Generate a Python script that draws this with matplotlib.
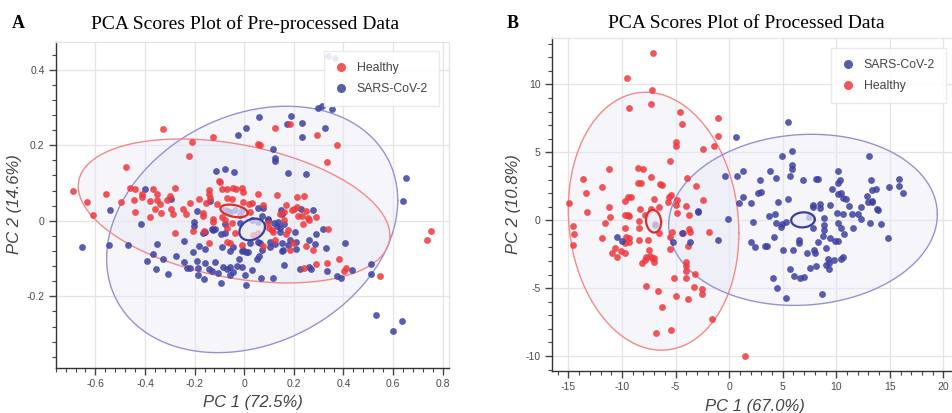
"""
PCA scores plots (pre-processed vs processed) - two panel figure
"""

import numpy as np
import matplotlib
matplotlib.use('Agg')
import matplotlib.pyplot as plt
from matplotlib.lines import Line2D
from matplotlib.ticker import MultipleLocator, FuncFormatter

plt.rcParams['font.family'] = 'Liberation Sans'
plt.rcParams['axes.unicode_minus'] = False

RED = '#f0383c'
BLUE = '#3d419f'

# ---- Panel A: pre-processed data (PC1, PC2) ----
a_healthy = [
    (-0.327, 0.243), (-0.212, 0.209), (-0.127, 0.221), (-0.223, 0.171), (-0.476, 0.141),
    (-0.101, 0.104), (-0.690, 0.079), (-0.634, 0.049), (-0.611, 0.016), (-0.559, 0.072),
    (-0.496, 0.049), (-0.461, 0.087), (-0.439, 0.085), (-0.445, 0.054), (-0.439, 0.023),
    (-0.414, 0.072), (-0.414, 0.062), (-0.379, 0.052), (-0.381, 0.009), (-0.367, 0.083),
    (-0.351, 0.070), (-0.351, 0.056), (-0.340, 0.044), (-0.359, 0.030), (-0.336, 0.021),
    (-0.313, 0.055), (-0.300, 0.065), (-0.278, 0.088), (-0.297, 0.030), (-0.289, 0.018),
    (-0.247, 0.031), (-0.236, 0.018), (-0.218, 0.047), (-0.184, 0.057), (-0.156, 0.046),
    (-0.144, 0.081), (-0.141, 0.072), (-0.136, 0.059), (-0.111, 0.044), (-0.090, 0.085),
    (-0.071, 0.083), (-0.048, 0.058), (-0.033, 0.083), (-0.008, 0.087), (-0.004, 0.075),
    (-0.006, 0.050), (-0.165, 0.020), (-0.168, 0.012), (-0.126, 0.004), (-0.278, -0.033),
    (-0.206, -0.026), (-0.163, -0.027), (-0.141, -0.060), (-0.089, 0.011), (-0.069, -0.018),
    (-0.037, -0.033), (-0.071, -0.056), (-0.058, -0.060), (-0.008, -0.063),
    (0.753, -0.028), (0.738, -0.050), (0.548, -0.146), (0.336, -0.022), (0.290, 0.011),
    (0.250, 0.027), (0.237, -0.009), (0.261, 0.001), (0.218, 0.012), (0.199, 0.030),
    (0.249, -0.068), (0.278, -0.077), (0.290, -0.115), (0.335, -0.112), (0.382, -0.100),
    (0.401, -0.132), (0.411, -0.125), (0.241, -0.126), (0.196, -0.058), (0.186, -0.078),
    (0.125, -0.052), (0.169, -0.035), (0.101, -0.019), (0.077, 0.042), (0.168, 0.042),
    (0.145, 0.018), (0.159, 0.023), (0.211, 0.037), (0.074, -0.067), (0.057, -0.033),
    (0.114, -0.030), (0.124, 0.246), (0.183, 0.257), (0.292, 0.228), (0.375, 0.200),
    (0.054, 0.204), (0.062, 0.200), (0.333, 0.155), (0.057, 0.072), (0.133, 0.067),
    (0.212, 0.063), (0.239, 0.065), (0.020, 0.044), (0.194, 0.028), (0.234, 0.012),
    (0.257, 0.006), (0.161, 0.002), (0.036, -0.038), (-0.098, 0.103), (-0.044, 0.086),
    (-0.071, 0.059), (0.030, 0.046), (0.023, 0.024), (-0.125, -0.003), (-0.051, -0.007),
    (-0.078, 0.002), (0.097, -0.007), (0.110, -0.025), (0.177, -0.025),
]
a_covid = [
    (0.007, 0.246), (-0.024, 0.228), (-0.115, 0.132), (-0.078, 0.136), (-0.040, 0.128),
    (-0.398, 0.083), (-0.294, 0.057), (-0.540, 0.028), (-0.417, -0.008), (-0.652, -0.069),
    (-0.544, -0.063), (-0.469, -0.063), (-0.353, -0.061), (-0.192, 0.026), (-0.137, 0.051),
    (-0.203, -0.003), (-0.203, -0.014), (-0.165, -0.033), (-0.129, -0.023), (-0.116, -0.023),
    (-0.093, -0.035), (-0.077, -0.008), (-0.242, -0.054), (-0.183, -0.068), (-0.067, 0.025),
    (-0.037, 0.028), (-0.018, 0.016), (-0.367, -0.089), (-0.391, -0.107), (-0.327, -0.100),
    (-0.356, -0.128), (-0.309, -0.141), (-0.274, -0.093), (-0.244, -0.110), (-0.232, -0.124),
    (-0.218, -0.124), (-0.206, -0.084), (-0.192, -0.106), (-0.187, -0.125), (-0.185, -0.144),
    (-0.160, -0.076), (-0.161, -0.154), (-0.158, -0.113), (-0.141, -0.129), (-0.128, -0.132),
    (-0.118, -0.110), (-0.107, -0.139), (-0.093, -0.164), (-0.085, -0.122), (-0.071, -0.127),
    (-0.058, -0.122), (-0.056, -0.144), (-0.047, -0.135), (-0.031, -0.120), (-0.023, -0.102),
    (-0.011, -0.122), (0.004, -0.144), (0.006, -0.169), (-0.056, -0.079), (-0.011, -0.079),
    (0.007, -0.083), (-0.078, -0.033), (-0.091, -0.069),
    (0.640, 0.052), (0.407, -0.058), (0.316, -0.022), (0.289, -0.035), (0.284, -0.061),
    (0.262, -0.050), (0.329, -0.073), (0.332, -0.133), (0.262, -0.123), (0.269, -0.128),
    (0.226, -0.129), (0.375, -0.146), (0.389, -0.152), (0.433, -0.130), (0.511, -0.115),
    (0.511, -0.142), (0.531, -0.250), (0.635, -0.266), (0.601, -0.292), (0.161, -0.118),
    (0.116, -0.152), (0.067, -0.151), (0.206, -0.031), (0.207, -0.056), (0.207, -0.076),
    (0.178, -0.064), (0.151, -0.079), (0.151, -0.058), (0.125, -0.061), (0.102, -0.069),
    (0.161, -0.009), (0.133, -0.014), (0.145, -0.019), (0.121, -0.005), (0.096, 0.004),
    (0.147, 0.028), (0.154, 0.019), (0.227, 0.030), (0.277, 0.028), (0.054, -0.056),
    (0.030, -0.130), (0.050, -0.102), (0.059, -0.094), (0.016, -0.082), (0.057, 0.035),
    (0.070, 0.013), (0.058, 0.275), (0.173, 0.256), (0.188, 0.277), (0.233, 0.260),
    (0.327, 0.245), (0.233, 0.221), (0.297, 0.299), (0.313, 0.303), (0.354, 0.295),
    (0.339, 0.437), (0.366, 0.430), (0.116, 0.189), (0.125, 0.165), (0.125, 0.158),
    (0.178, 0.126), (0.249, 0.124), (0.652, 0.114), (0.137, -0.003), (-0.078, 0.028),
    (-0.058, 0.024), (-0.010, 0.028), (0.077, 0.035), (-0.017, -0.007), (0.030, 0.002),
    (0.057, -0.002), (0.097, 0.002), (-0.158, -0.029), (-0.125, -0.024), (-0.044, -0.069),
    (-0.004, -0.078), (0.023, -0.060), (0.064, -0.060), (0.070, -0.078), (0.104, -0.056),
    (0.144, -0.029), (0.157, -0.078), (0.184, -0.052),
]
# ellipse centre and covariance-like shape (data units)
a_healthy_ell = ((-0.041, 0.026), [[0.3944, -0.0411], [-0.0411, 0.0363]])
a_covid_ell = ((0.032, -0.023), [[0.3442, 0.0452], [0.0452, 0.1064]])

# ---- Panel B: processed data ----
b_healthy = [
    (-7.07, 12.28), (-9.50, 10.51), (-7.20, 9.60), (-9.32, 8.23), (-7.32, 8.55),
    (-4.61, 8.00), (-4.36, 7.07), (-1.02, 7.54), (-1.05, 6.19), (-1.43, 5.48),
    (-2.43, 5.28), (-4.95, 5.79), (-4.95, 5.48), (-5.54, 4.37), (-8.51, 3.85),
    (-8.01, 3.78), (-7.26, 3.16), (-8.47, 2.75), (-8.20, 2.75), (-6.42, 2.65),
    (-6.26, 2.58), (-3.92, 3.14), (-3.08, 2.53), (-11.25, 3.76), (-13.62, 3.02),
    (-11.91, 2.45), (-13.34, 2.04), (-9.75, 1.42), (-9.44, 1.74), (-9.13, 1.74),
    (-7.01, 1.55), (-5.61, 1.74), (-5.45, 1.86), (-4.89, 1.50), (-5.67, 1.32),
    (-2.40, 1.47), (-4.95, 1.13), (-4.04, 1.05), (-14.96, 1.28), (-11.22, 1.01),
    (-7.29, 0.86), (-6.51, 0.95), (-14.56, -0.42), (-14.50, -1.03), (-14.53, -1.80),
    (-13.22, 0.59), (-11.63, -0.20), (-11.13, 0.22), (-11.88, -1.33), (-10.97, -2.43),
    (-10.48, -2.68), (-10.69, -2.01), (-10.10, -2.24), (-9.75, -2.38), (-9.75, -1.70),
    (-9.63, -1.26), (-9.38, -1.62), (-9.44, 0.39), (-9.32, 0.34), (-9.72, 0.39),
    (-9.69, -0.57), (-9.32, -1.33), (-8.38, -0.03), (-8.38, -0.59), (-8.38, -1.45),
    (-8.32, 0.81), (-8.16, -3.17), (-7.88, -2.92), (-7.73, -2.68), (-7.60, -1.45),
    (-7.45, -2.19), (-7.38, -2.63), (-7.23, -2.80), (-7.04, -3.05), (-6.98, -2.80),
    (-7.76, -4.86), (-6.64, -5.18), (-6.51, -0.96), (-6.26, -6.39), (-6.82, -8.28),
    (-5.42, -8.08), (-4.92, -5.58), (-5.17, -4.25), (-5.54, -2.12), (-5.51, -1.21),
    (-5.36, -0.89), (-4.86, 0.51), (-4.02, -3.05), (-4.02, -3.37), (-4.02, -3.74),
    (-4.02, -4.28), (-3.86, -5.80), (-3.86, -1.89), (-3.77, 0.39), (-3.71, -0.64),
    (-3.65, -0.89), (-4.30, -0.96), (-3.15, -3.96), (-3.24, -4.89), (-2.52, -5.08),
    (-2.52, -5.43), (-1.90, -0.84), (-1.58, -7.25), (1.49, -10.00), (-7.85, 0.39),
    (-6.88, -0.27),
]
b_covid = [
    (-10.03, -1.50), (-10.50, -1.25), (-6.88, -0.37), (-5.23, -1.57), (-4.40, -0.91),
    (-3.62, -1.57), (-2.90, 0.61), (-1.08, -1.45), (-0.09, 0.07), (0.91, 1.30),
    (2.07, 1.30), (2.25, -0.15), (2.07, -1.57), (2.45, -1.97), (3.32, -1.87),
    (3.54, -1.87), (4.23, -1.25), (3.70, 0.32), (4.26, 0.46), (4.41, -0.17),
    (4.89, -0.47), (4.94, -0.30), (5.28, -0.13), (5.04, -2.16), (5.66, -3.61),
    (6.01, -2.19), (6.10, -4.10), (6.53, -1.45), (6.59, -4.28), (6.56, -1.70),
    (6.96, -4.15), (7.27, -2.43), (7.43, 0.27), (7.83, -0.59), (7.83, 1.13),
    (7.53, -3.54), (7.93, -2.19), (8.00, -2.43), (8.31, -1.57), (8.53, 0.93),
    (8.65, -5.45), (8.84, 0.15), (8.84, -0.34), (8.84, -0.71), (8.78, -1.13),
    (9.03, -2.07), (9.24, -2.88), (9.31, -3.12), (9.31, -3.61), (9.09, -3.29),
    (9.46, 1.13), (9.40, -1.33), (9.77, -2.92), (9.93, -1.50), (10.12, -1.50),
    (10.09, 0.51), (10.18, -0.22), (10.40, -0.54), (10.65, 0.46), (10.49, -2.88),
    (10.65, -2.68), (10.74, -1.03), (11.21, 1.05), (11.49, 0.46), (11.52, -0.59),
    (12.30, 1.00), (12.30, 0.07), (12.05, 0.46), (12.99, 1.37), (13.15, -0.17),
    (13.37, 1.37), (13.87, 0.76), (14.18, -0.27), (14.80, -1.33), (4.09, -4.23),
    (4.46, -5.01), (5.28, -5.75), (8.09, -3.37), (5.53, 7.27), (0.66, 6.16),
    (4.97, 4.71), (5.88, 5.11), (5.88, 4.08), (5.88, 3.76), (5.72, 3.26),
    (13.09, 4.71), (-0.34, 3.26), (0.72, 3.26), (1.29, 3.63), (3.84, 3.63),
    (4.34, 3.09), (2.88, 2.97), (3.00, 2.11), (2.72, 1.99), (1.29, 1.74),
    (4.59, 1.32), (5.50, 1.55), (6.94, 2.94), (8.09, 3.04), (8.34, 3.04),
    (8.53, 1.20), (7.83, 0.95), (9.65, 2.28), (10.12, 3.66), (10.12, 2.77),
    (10.34, 2.97), (10.18, 1.91), (10.43, 2.04), (10.62, 1.67), (10.90, 1.60),
    (12.83, 1.79), (13.21, 2.97), (13.37, 1.42), (13.31, 2.23), (13.68, 2.31),
    (14.94, 2.48), (15.88, 3.04), (15.88, 2.55), (16.26, 1.99), (13.84, 0.81),
    (-2.93, 0.68),
]
b_healthy_ell = ((-7.05, -0.07), [[63.4, -7.0], [-7.0, 90.2]])
b_covid_ell = ((6.9, 0.03), [[157.3, 5.0], [5.0, 39.7]])

MEAN_SCALE = 0.088  # small ellipse = scaled copy of the big one


def ellipse_xy(ell, scale=1.0, n=240):
    center, cov = ell
    t = np.linspace(0, 2 * np.pi, n)
    L = np.linalg.cholesky(np.array(cov))
    pts = (L @ np.vstack([np.cos(t), np.sin(t)])) * scale
    return center[0] + pts[0], center[1] + pts[1]


def style_axes(ax, xlim, ylim, xmaj, ymaj, xticks, yticks):
    ax.set_xlim(*xlim)
    ax.set_ylim(*ylim)
    ax.set_xticks(xticks)
    ax.set_yticks(yticks)
    ax.xaxis.set_minor_locator(MultipleLocator(xmaj / 5))
    ax.yaxis.set_minor_locator(MultipleLocator(ymaj / 5))
    fmt = FuncFormatter(lambda v, p: '%g' % round(v, 6))
    ax.xaxis.set_major_formatter(fmt)
    ax.yaxis.set_major_formatter(fmt)
    ax.grid(True, color='#e4e4e4', lw=0.9, zorder=0)
    ax.set_axisbelow(True)
    for s in ('top', 'right'):
        ax.spines[s].set_color('#e4e4e4')
        ax.spines[s].set_linewidth(0.9)
    for s in ('left', 'bottom'):
        ax.spines[s].set_color('#333333')
        ax.spines[s].set_linewidth(1.0)
    ax.tick_params(which='major', direction='out', length=5, width=1, color='#444444',
                   labelsize=7.5, labelcolor='#4a4a4a', pad=3)
    ax.tick_params(which='minor', direction='out', length=3, width=0.8, color='#444444')
    ax.tick_params(top=False, right=False, which='both')


def draw_group(ax, pts, ell, color, edge_big, edge_small):
    xs, ys = ellipse_xy(ell)
    ax.fill(xs, ys, color='#e9e9f6', alpha=0.45, lw=0, zorder=1)
    ax.plot(xs, ys, color=edge_big, lw=1.0, zorder=2)
    arr = np.array(pts)
    ax.scatter(arr[:, 0], arr[:, 1], s=24, color=color, alpha=0.85, lw=0, zorder=3)
    sx, sy = ellipse_xy(ell, MEAN_SCALE)
    ax.fill(sx, sy, color='#ececf7', alpha=0.7, lw=0, zorder=4)
    ax.plot(sx, sy, color=edge_small, lw=1.6, zorder=5)


def add_legend(ax, labels, colors, anchor):
    handles = [Line2D([], [], ls='', marker='o', ms=6.5, color=c, alpha=0.85, mec='none')
               for c in colors]
    leg = ax.legend(handles, labels, loc='upper right', bbox_to_anchor=anchor,
                    borderaxespad=0, fontsize=8.8, frameon=True, fancybox=False,
                    framealpha=0.88, edgecolor='#e8e8e8', borderpad=0.9,
                    handlelength=1.0, handletextpad=0.8, labelspacing=0.75)
    leg.set_zorder(10)
    for t in leg.get_texts():
        t.set_color('#444444')


fig = plt.figure(figsize=(9.53, 4.13), dpi=100)
fig.patch.set_facecolor('white')

# Panel A
ax1 = fig.add_axes([0.0584, 0.1097, 0.4127, 0.7893])
draw_group(ax1, a_covid, a_covid_ell, BLUE, '#9393d6', '#3a3f9f')
draw_group(ax1, a_healthy, a_healthy_ell, RED, '#f28a8a', '#e52a2e')
style_axes(ax1, (-0.76, 0.825), (-0.389, 0.474), 0.2, 0.2,
           [-0.6, -0.4, -0.2, 0, 0.2, 0.4, 0.6, 0.8], [-0.2, 0, 0.2, 0.4])
add_legend(ax1, ['Healthy', 'SARS-CoV-2'], [RED, BLUE], (0.975, 0.971))

# Panel B
ax2 = fig.add_axes([0.5789, 0.1017, 0.4211, 0.8056])
draw_group(ax2, b_healthy, b_healthy_ell, RED, '#f28a8a', '#e52a2e')
draw_group(ax2, b_covid, b_covid_ell, BLUE, '#9393d6', '#3a3f9f')
style_axes(ax2, (-16.56, 20.9), (-11.1, 13.4), 5, 5,
           [-15, -10, -5, 0, 5, 10, 15, 20], [-10, -5, 0, 5, 10])
add_legend(ax2, ['SARS-CoV-2', 'Healthy'], [BLUE, RED], (0.9826, 0.971))

# titles and panel letters
fig.text(0.2568, 0.942, 'PCA Scores Plot of Pre-processed Data', ha='center', va='center',
         family='Liberation Serif', fontsize=14, color='black')
fig.text(0.7828, 0.942, 'PCA Scores Plot of Processed Data', ha='center', va='center',
         family='Liberation Serif', fontsize=14, color='black')
fig.text(0.0125, 0.944, 'A', ha='left', va='center', family='Liberation Serif',
         fontsize=13, fontweight='bold')
fig.text(0.532, 0.944, 'B', ha='left', va='center', family='Liberation Serif',
         fontsize=13, fontweight='bold')

# axis labels
lab = dict(fontsize=12, style='italic', color='#444444', ha='center', va='center')
fig.text(0.2655, 0.026, 'PC 1 (72.5%)', **lab)
fig.text(0.7917, 0.016, 'PC 1 (67.0%)', **lab)
fig.text(0.0157, 0.505, 'PC 2 (14.6%)', rotation=90, **lab)
fig.text(0.5386, 0.506, 'PC 2 (10.8%)', rotation=90, **lab)

fig.savefig('out.png', dpi=100, facecolor='white')
